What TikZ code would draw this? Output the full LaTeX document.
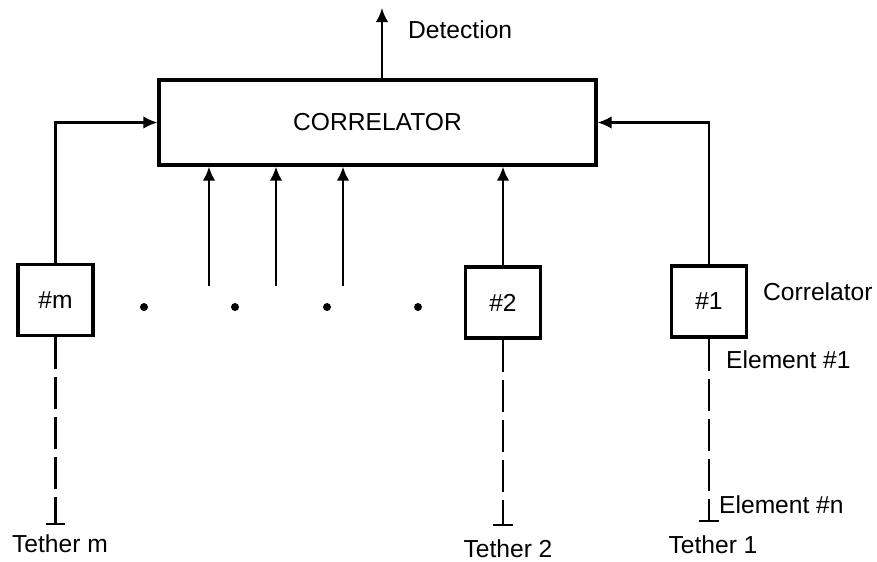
\documentclass[tikz,border=0pt]{standalone}
\usepackage{fontspec}
\setmainfont{Liberation Sans}
\usepackage{tikz}
\usetikzlibrary{arrows.meta}

\begin{document}
\begin{tikzpicture}[x=0.02cm,y=-0.02cm,
  font=\fontsize{14}{17}\selectfont,
  bigbox/.style={draw,line width=1.9pt,minimum width=8.74cm,minimum height=1.7cm,inner sep=0pt},
  elembox/.style={draw,line width=1.9pt,minimum width=1.5cm,minimum height=1.42cm,inner sep=0pt},
  sig/.style={line width=1.2pt,-{Latex[length=0.28cm,width=0.25cm]}},
  tether/.style={line width=1.2pt,dash pattern=on 0.64cm off 0.16cm,-{Bar[width=0.4cm,line width=1.2pt]}},
  dot/.style={circle,fill,inner sep=1.6pt}]
\useasboundingbox (0,0) rectangle (877,562);
\node (corr) at (377.5,122.5) [bigbox] {CORRELATOR};
\node (elm) at (55.5,300) [elembox] {\#m};
\node (el2) at (503,302.5) [elembox] {\#2};
\node (el1) at (709,301.5) [elembox] {\#1};
\coordinate (det) at (382,8);
\node (dettext) at (402,30) [anchor=west] {Detection};
\draw[sig] (corr.north -| det) -- (det);
\draw[sig] (elm.north) |- (corr.west);
\draw[sig] (el1.north) |- (corr.east);
\draw[sig] (el2.north) -- (el2.north |- corr.south);
\coordinate (in1) at (209,286);
\coordinate (in2) at (276,286);
\coordinate (in3) at (343,286);
\draw[sig] (in1) -- (in1 |- corr.south);
\draw[sig] (in2) -- (in2 |- corr.south);
\draw[sig] (in3) -- (in3 |- corr.south);
\node (dot1) at (144,307) [dot] {};
\node (dot2) at (235,307) [dot] {};
\node (dot3) at (327,307) [dot] {};
\node (dot4) at (418,307) [dot] {};
\coordinate (tm) at (elm.south |- 0,525);
\coordinate (t2) at (el2.south |- 0,526);
\coordinate (t1) at (el1.south |- 0,522);
\draw[tether] (elm.south) -- (tm);
\draw[tether] (el2.south) -- (t2);
\draw[tether] (el1.south) -- (t1);
\node (tmtext) at (60,544) {Tether m};
\node (t2text) at (508,549) {Tether 2};
\node (t1text) at (713,545) {Tether 1};
\node (corrtext) at (757,292) [anchor=west] {Correlator};
\node (e1text) at (720,360) [anchor=west] {Element \#1};
\node (entext) at (713,505) [anchor=west] {Element \#n};
\end{tikzpicture}
\end{document}
